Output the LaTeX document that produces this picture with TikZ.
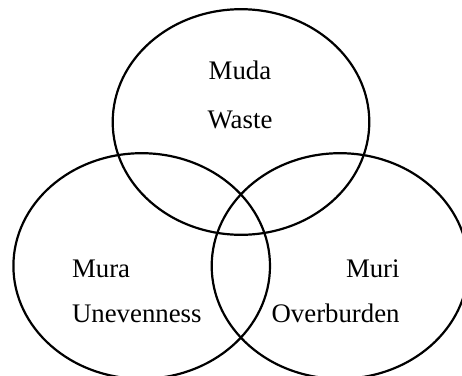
\documentclass[tikz,border=0pt]{standalone}
\usepackage{fontspec}
\setmainfont{Liberation Serif}
\usetikzlibrary{shapes.geometric}

\begin{document}
\begin{tikzpicture}[x=0.5pt,y=-0.5pt,
    every node/.style={inner sep=0pt},
    venn set/.style={ellipse,draw,line width=1.1pt,
                     minimum width=128.3pt,minimum height=112.8pt},
    set text/.style={font=\fontsize{13.4}{22.5}\selectfont}]
  \useasboundingbox (0,0) rectangle (462,376);
  % the three sets
  \node[venn set] (muda) at (241,122) {};
  \node[venn set] (mura) at (141.7,266) {};
  \node[venn set] (muri) at (340,266) {};
  % their texts (base = last line)
  \node[set text,align=center,anchor=base,font=\fontsize{13.4}{24.5}\selectfont]
    (mudatext) at (240,128.3) {Muda\\Waste};
  \node[set text,align=left,anchor=base west] (muratext) at (71.7,322) {Mura\\Unevenness};
  \node[set text,align=right,anchor=base east] (muritext) at (400,322) {Muri\\Overburden};
\end{tikzpicture}
\end{document}
